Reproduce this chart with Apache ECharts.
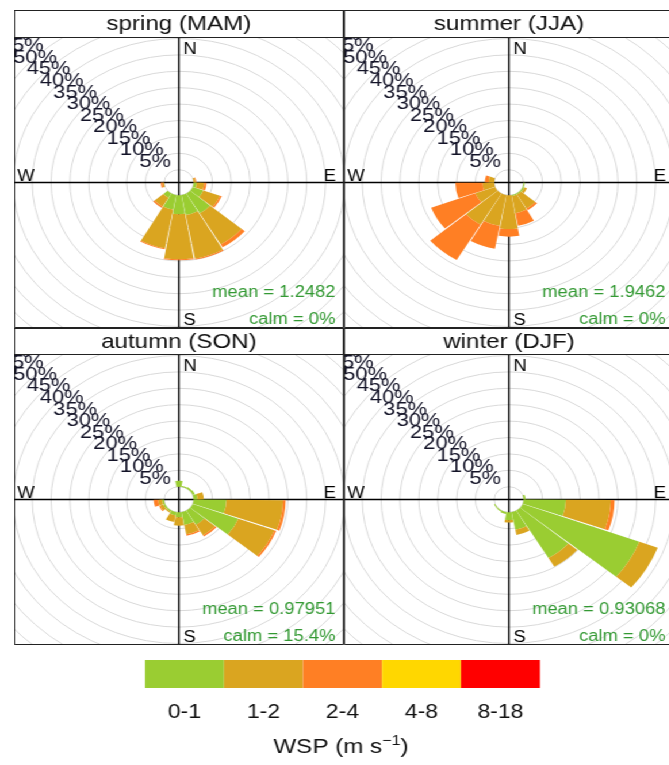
<!DOCTYPE html>
<html>
<head>
<meta charset="utf-8">
<title>Wind rose by season</title>
<script src="https://cdn.jsdelivr.net/npm/echarts@6.0.0/dist/echarts.min.js"></script>
<style>
  html, body { margin: 0; padding: 0; background: #fff; overflow: hidden; }
  #page { position: absolute; left: 0; top: 0; height: 765px; transform-origin: 0 0; }
  .box { position: absolute; }
</style>
</head>
<body>
<div id="page">
  <div id="legend" class="box"></div>
  <div id="p0" class="box"></div>
  <div id="p1" class="box"></div>
  <div id="p2" class="box"></div>
  <div id="p3" class="box"></div>
</div>
<script>
// the source picture is stretched sideways, so the page is drawn narrow and widened
const STRETCH = 1.15
const PX_PER_PCT = 3.28   // radial scale (px for 1 %)
const HOLE = 3.9          // empty centre of the rose, in %
const RING_MAX = 70
const FONT = 'Liberation Sans, Arial, sans-serif'

const directions = ['0', '20', '40', '60', '80', '100', '120', '140', '160', '180',
  '200', '220', '240', '260', '280', '300', '320', '340']
const speedBins = ['0-1', '1-2', '2-4', '4-8', '8-18']
const binColours = ['#9ACD32', '#DAA520', '#FF7F24', '#FFD700', '#FF0000']
const ringValues = [0, 5, 10, 15, 20, 25, 30, 35, 40, 45, 50, 55, 60, 65, 70]
// ring labels, split in two so that neighbours never share an axis
const ringLabelsOdd = [5, 15, 25, 35, 45, 55, 65]
const ringLabelsEven = [10, 20, 30, 40, 50, 60]

const seasons = ['spring (MAM)', 'summer (JJA)', 'autumn (SON)', 'winter (DJF)']
const meanWsp = ['1.2482', '1.9462', '0.97951', '0.93068']
const calmPct = ['0', '0', '15.4', '0']

const noObs = [0, 0, 0, 0, 0, 0, 0, 0, 0, 0, 0, 0, 0, 0, 0, 0, 0, 0]

// % of hours per direction (0, 20, ... 340), one row per speed bin
const spring = [
  [0, 0, 0, 0, 0, 0.8, 3.0, 7.0, 6.2, 5.8, 4.5, 1.5, 0, 0, 0, 0, 0, 0],
  [0, 0, 0, 0, 0.5, 2.0, 4.7, 11.0, 13.5, 13.7, 12.0, 3.1, 0, 0.4, 0, 0, 0, 0],
  [0, 0, 0, 0, 0.2, 0.6, 0.5, 1.0, 0.3, 0.3, 0.3, 0.4, 0, 0.5, 0, 0, 0, 0],
  noObs,
  noObs,
]
const summer = [
  [0, 0, 0, 0, 0, 0.3, 0.5, 0.3, 0.3, 0, 0, 0, 0, 0, 0, 0, 0, 0],
  [0, 0, 0, 0, 0, 0, 0.7, 5.0, 5.3, 10.3, 9.6, 11.0, 5.6, 3.1, 1.5, 0, 0, 0],
  [0, 0, 0, 0, 0, 0, 0, 0.6, 3.9, 2.3, 7.0, 12.5, 12.5, 7.2, 1.0, 0, 0, 0],
  noObs,
  noObs,
]
const autumn = [
  [1.8, 0.3, 0.5, 0.6, 1.0, 8.7, 12.9, 5.0, 4.0, 1.5, 1.0, 0.4, 0.5, 0.5, 0, 0, 0, 0],
  [0, 0, 0, 0, 1.7, 15.0, 10.2, 3.7, 2.9, 2.6, 2.1, 0.4, 0.9, 1.1, 0, 0, 0, 0],
  [0, 0, 0, 0, 0, 0.7, 0.5, 0.5, 0.4, 0, 0, 0, 0.3, 1.2, 0, 0, 0, 0],
  noObs,
  noObs,
]
const winter = [
  [0, 0, 0, 0, 0.5, 11.2, 33.0, 16.8, 5.5, 2.4, 0.6, 0.3, 0.3, 0, 0, 0, 0, 0],
  [0, 0, 0, 0, 0, 11.9, 5.2, 3.1, 1.6, 0.7, 0, 0, 0, 0, 0, 0, 0, 0],
  [0, 0, 0, 0, 0, 1.0, 0, 0, 0, 0, 0, 0, 0, 0, 0, 0, 0, 0],
  noObs,
  noObs,
]
const seasonData = [spring, summer, autumn, winter]

// layout, measured on the picture (px, before the sideways stretch is undone)
const panelLeft = [13.3, 343.5, 13.3, 343.5]
const panelTop = [10, 10, 328, 328]
const stripHeight = [27, 27, 26, 26]
const panelWidth = 330.2
const bodyHeight = 291

const sx = v => v / STRETCH

const page = document.getElementById('page')
page.style.width = sx(669) + 'px'
page.style.transform = 'scaleX(' + STRETCH + ')'

function text(str, x, y, align, valign, size, color) {
  return {
    type: 'text', x: x, y: y, z: 101,
    style: { text: str, align: align, verticalAlign: valign, fontSize: size, fontFamily: FONT, fill: color },
  }
}

function hiddenAngle(idx) {
  return {
    polarIndex: idx, type: 'value', min: 0, max: 360, startAngle: 135,
    axisLine: { show: false }, axisTick: { show: false }, axisLabel: { show: false }, splitLine: { show: false },
  }
}

function labelRadius(idx, values) {
  return {
    polarIndex: idx, type: 'value', min: -HOLE, max: RING_MAX,
    axisLine: { show: false }, axisTick: { show: false }, splitLine: { show: false },
    axisLabel: {
      show: true, customValues: values, formatter: '{value}%', margin: 0,
      showMinLabel: true, showMaxLabel: true, hideOverlap: false,
      align: 'center', verticalAlign: 'middle', fontSize: 19, fontFamily: FONT, color: '#141428',
    },
  }
}

function drawPanel(k) {
  const el = document.getElementById('p' + k)
  const w = sx(panelWidth)
  const stripH = stripHeight[k]
  const h = stripH + bodyHeight
  el.style.left = sx(panelLeft[k]) + 'px'
  el.style.top = panelTop[k] + 'px'
  el.style.width = w + 'px'
  el.style.height = h + 'px'
  const cx = w / 2
  const cy = stripH + bodyHeight / 2
  const radius = (RING_MAX + HOLE) * PX_PER_PCT
  const rows = seasonData[k]

  const chart = echarts.init(el)
  chart.setOption({
    animation: false,
    polar: [
      { center: [cx, cy], radius: radius },
      { center: [cx, cy], radius: radius },
      { center: [cx, cy], radius: radius },
    ],
    angleAxis: [
      {
        polarIndex: 0, type: 'category', data: directions, startAngle: 100, clockwise: true,
        axisLine: { show: false }, axisTick: { show: false }, axisLabel: { show: false }, splitLine: { show: false },
      },
      hiddenAngle(1),
      hiddenAngle(2),
    ],
    radiusAxis: [
      {
        polarIndex: 0, type: 'value', min: -HOLE, max: RING_MAX,
        axisLine: { show: false }, axisLabel: { show: false },
        axisTick: { show: false, customValues: ringValues },
        splitLine: { show: true, lineStyle: { color: '#d9d9d9', width: 1 } },
      },
      labelRadius(1, ringLabelsOdd),
      labelRadius(2, ringLabelsEven),
    ],
    series: speedBins.map((name, i) => ({
      type: 'bar', coordinateSystem: 'polar', polarIndex: 0, stack: 'wsp', name: name,
      data: rows[i], barCategoryGap: '4%', itemStyle: { color: binColours[i] }, z: 3,
    })),
    graphic: [
      { type: 'line', z: 1, shape: { x1: 0, y1: cy, x2: w, y2: cy }, style: { stroke: '#000', lineWidth: 1.4 } },
      { type: 'line', z: 1, shape: { x1: cx, y1: stripH, x2: cx, y2: h }, style: { stroke: '#000', lineWidth: 1.4 } },
      text('N', cx + 4, stripH + 5, 'left', 'top', 16, '#000'),
      text('S', cx + 4, h + 1, 'left', 'bottom', 16, '#000'),
      text('E', w - 7, cy + 2.5, 'right', 'bottom', 16, '#000'),
      text('W', 3, cy + 2.5, 'left', 'bottom', 16, '#000'),
      text('mean = ' + meanWsp[k], w - 7.4, stripH + 255.7, 'right', 'middle', 16, '#339933'),
      text('calm = ' + calmPct[k] + '%', w - 7.4, stripH + 283, 'right', 'middle', 16, '#339933'),
      { type: 'rect', z: 100, shape: { x: 0.5, y: 0.5, width: w - 1, height: stripH },
        style: { fill: '#fff', stroke: '#222', lineWidth: 1 } },
      text(seasons[k], cx, stripH / 2 + 1, 'center', 'middle', 21, '#111'),
      { type: 'rect', z: 100, shape: { x: 0.5, y: 0.5, width: w - 1, height: h - 1 },
        style: { fill: null, stroke: '#222', lineWidth: 1 } },
    ],
  })
}

function drawLegend() {
  const el = document.getElementById('legend')
  const top = 648
  el.style.left = '0px'
  el.style.top = top + 'px'
  el.style.width = sx(669) + 'px'
  el.style.height = (765 - top) + 'px'
  const x0 = sx(145)
  const boxW = sx(79)
  const items = []
  speedBins.forEach((b, i) => {
    items.push({ type: 'rect', shape: { x: x0 + i * boxW, y: 660 - top, width: boxW, height: 28 },
      style: { fill: binColours[i] } })
    items.push(text(b, x0 + (i + 0.5) * boxW, 712 - top, 'center', 'middle', 20, '#111'))
  })
  items.push({
    type: 'text', x: sx(341), y: 747 - top,
    style: {
      text: '{a|WSP (m s}{s|−1}{a|)}', align: 'center', verticalAlign: 'middle',
      rich: {
        a: { fontSize: 21, fontFamily: FONT, fill: '#111' },
        s: { fontSize: 14, fontFamily: FONT, fill: '#111', padding: [0, 0, 12, 0] },
      },
    },
  })
  const chart = echarts.init(el)
  chart.setOption({ animation: false, graphic: items })
}

drawLegend()
for (let k = 0; k < 4; k++) drawPanel(k)
</script>
</body>
</html>
